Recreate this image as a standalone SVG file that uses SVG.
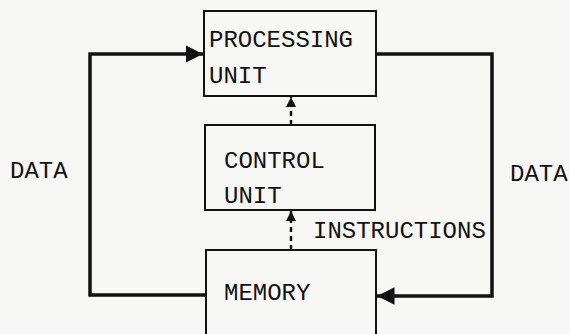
<svg xmlns="http://www.w3.org/2000/svg" width="570" height="334" viewBox="0 0 570 334">
<style>
.box{fill:none;stroke:#111;stroke-width:2}
.t{font-family:"Liberation Mono","Courier New",monospace;font-size:24px;fill:#111}
.c{fill:none;stroke:#111;stroke-width:3.5;stroke-linejoin:miter}
.d{fill:none;stroke:#111;stroke-width:2.5;stroke-dasharray:5 4}
</style>
<defs>
<marker id="ah" viewBox="0 0 10 10" refX="10" refY="5" markerWidth="5" markerHeight="5" markerUnits="strokeWidth" orient="auto">
<path d="M0,0 L10,5 L0,10 Z" fill="#111"/>
</marker>
<marker id="as" viewBox="0 0 10 10" refX="10" refY="5" markerWidth="4" markerHeight="4" orient="auto">
<path d="M0,0 L10,5 L0,10 Z" fill="#111"/>
</marker>
</defs>
<rect width="570" height="334" fill="#f7f7f5"/>
<g id="processing-unit">
<rect class="box" x="204" y="11" width="172" height="85"/>
<text class="t" x="209" y="47">PROCESSING</text>
<text class="t" x="209" y="83">UNIT</text>
</g>
<g id="control-unit">
<rect class="box" x="205" y="125" width="170" height="85"/>
<text class="t" x="224" y="168">CONTROL</text>
<text class="t" x="224" y="203">UNIT</text>
</g>
<g id="memory">
<rect class="box" x="206" y="250" width="170" height="90"/>
<text class="t" x="224" y="300">MEMORY</text>
</g>
<g id="connectors">
<path class="c" d="M206,295 H90 V54 H203" marker-end="url(#ah)"/>
<path class="c" d="M376,54 H492 V296 H377" marker-end="url(#ah)"/>
<path class="d" d="M291,125 V97" marker-end="url(#as)"/>
<path class="d" d="M291,250 V211" marker-end="url(#as)"/>
</g>
<g id="labels">
<text class="t" x="10" y="178">DATA</text>
<text class="t" x="510" y="181">DATA</text>
<text class="t" x="313" y="238">INSTRUCTIONS</text>
</g>
</svg>
